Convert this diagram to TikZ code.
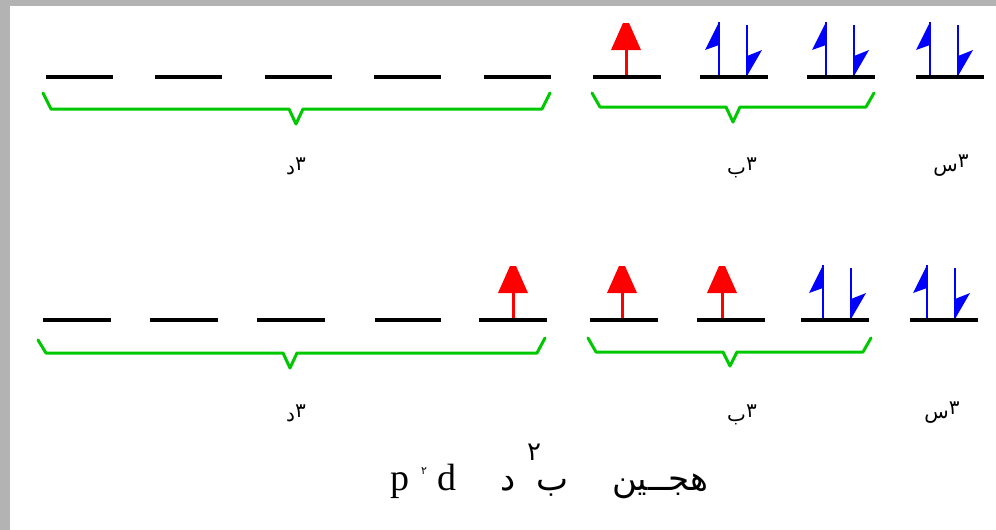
\documentclass[tikz,border=0pt]{standalone}
\usepackage{fontspec}
\setmainfont{Liberation Serif}
\newfontfamily\arabicfont[Script=Arabic]{DejaVu Sans}
\TeXXeTstate=1
\definecolor{lvlgreen}{RGB}{0,200,0}
\definecolor{orbred}{RGB}{255,0,0}
\definecolor{orbblue}{RGB}{0,0,255}
\definecolor{framegray}{RGB}{179,179,179}
\newcommand{\upnum}[1]{\raisebox{4pt}{#1}}
\begin{document}
\begin{tikzpicture}[x=1pt,y=-1pt,
  level/.style={line width=4pt,black},
  brace/.style={line width=3pt,lvlgreen,line join=round,line cap=round},
  lab/.style={font=\arabicfont\fontsize{20}{24}\selectfont,text=black,inner sep=0pt},
  arab/.style={font=\arabicfont\fontsize{34}{38}\selectfont,inner sep=0pt,anchor=base},
  latin/.style={font=\fontsize{38}{40}\selectfont,inner sep=0pt,anchor=base west},
  pics/upspin/.style={code={
    \draw[orbred,line width=3pt] (0,0) -- (0,-30);
    \fill[orbred] (-15,-27) -- (15,-27) -- (3,-54) -- (-3,-54) -- cycle;}},
  pics/pairspin/.style={code={
    \draw[orbblue,line width=2pt] (0,0) -- (0,-55);
    \fill[orbblue] (0,-55) -- (-14,-27) -- (0,-32) -- cycle;
    \draw[orbblue,line width=2pt] (28,0) -- (28,-52);
    \fill[orbblue] (28,-1) -- (43,-27) -- (28,-21) -- cycle;}}
]
\useasboundingbox (0,0) rectangle (996,530);
\fill[framegray] (0,0) rectangle (996,6);
\fill[framegray] (0,0) rectangle (10,530);

% ---- row 1 ----
\pic at (626,77) {upspin};
\pic at (719,77) {pairspin};
\pic at (826,77) {pairspin};
\pic at (930,77) {pairspin};
\foreach \x [count=\i] in {46,155,265,374,484}
  \draw[level] (\x,77) coordinate (ad\i) -- ++(67,0);
\foreach \x [count=\i] in {593,700,807}
  \draw[level] (\x,77) coordinate (ap\i) -- ++(68,0);
\draw[level] (916,77) coordinate (as1) -- ++(68,0);
\draw[brace] (43,93) -- (51,109) -- (289,109) -- (296,124) -- (303,109) -- (542,109) -- (550,93);
\draw[brace] (592,93) -- (600,107) -- (726,107) -- (733,122) -- (740,107) -- (866,107) -- (874,93);
\node[lab] (ld1) at (296,166) {\beginR\upnum{۳}د\endR};
\node[lab] (lp1) at (742,168) {\beginR\upnum{۳}ب\endR};
\node[lab] (ls1) at (951,166) {\beginR\upnum{۳}س\endR};

% ---- row 2 ----
\pic at (513,320) {upspin};
\pic at (622,320) {upspin};
\pic at (722,320) {upspin};
\pic at (823,320) {pairspin};
\pic at (927,320) {pairspin};
\foreach \x/\w [count=\i] in {43/68,150/68,257/68,375/66,479/68}
  \draw[level] (\x,320) coordinate (bd\i) -- ++(\w,0);
\foreach \x [count=\i] in {590,697,801}
  \draw[level] (\x,320) coordinate (bp\i) -- ++(68,0);
\draw[level] (910,320) coordinate (bs1) -- ++(68,0);
\draw[brace] (38,340) -- (46,353) -- (283,353) -- (290,368) -- (297,353) -- (537,353) -- (545,338);
\draw[brace] (588,338) -- (596,352) -- (723,352) -- (730,366) -- (737,352) -- (863,352) -- (871,338);
\node[lab] (ld2) at (296,413) {\beginR\upnum{۳}د\endR};
\node[lab] (lp2) at (742,415) {\beginR\upnum{۳}ب\endR};
\node[lab] (ls2) at (942,413) {\beginR\upnum{۳}س\endR};

% ---- title ----
\node[latin] (tp) at (390,490) {p};
\node[font=\arabicfont\fontsize{11}{12}\selectfont,inner sep=0pt] (tsa) at (424,471) {۲};
\node[latin] (td) at (437,490) {d};
\node[arab] (tdal) at (508,490) {\beginR د\endR};
\node[arab] (tbe) at (552,490) {\beginR ب\endR};
\node[font=\arabicfont\fontsize{26}{30}\selectfont,inner sep=0pt] (tsb) at (534,452) {۲};
\node[arab] (thyb) at (660,490) {\beginR هجــین\endR};
\end{tikzpicture}
\end{document}
